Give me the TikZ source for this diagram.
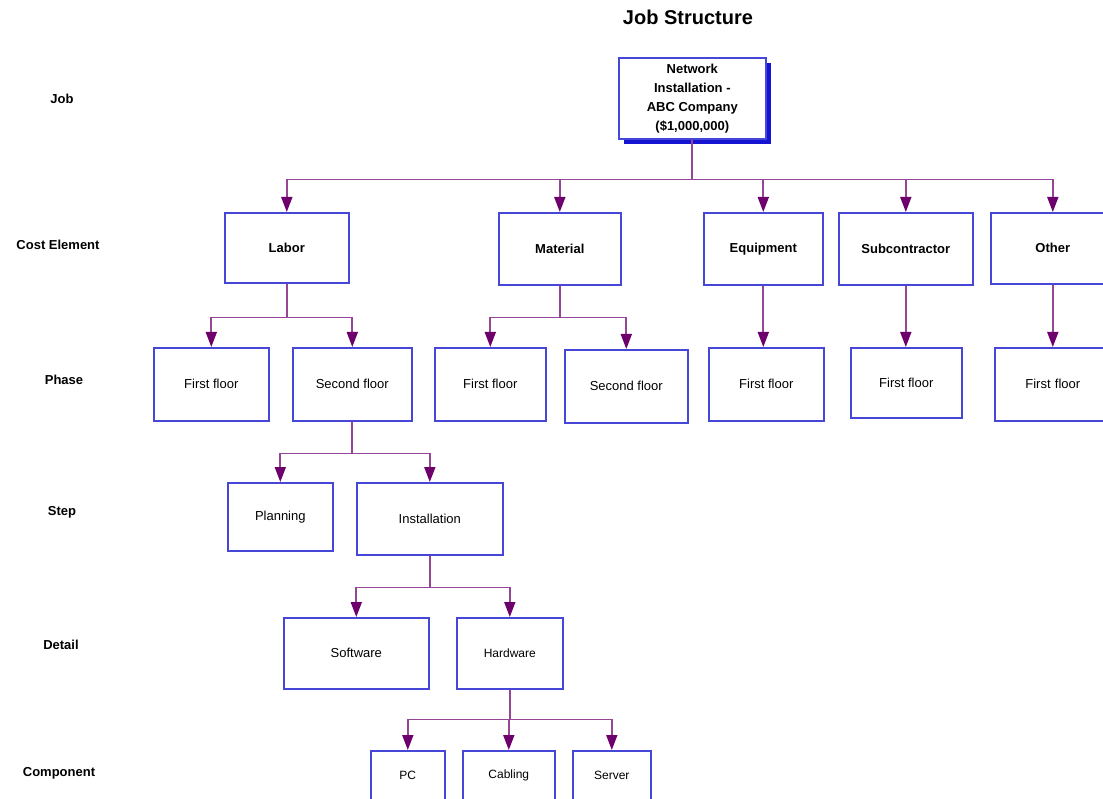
\documentclass[tikz,border=0pt]{standalone}
\usepackage{fontspec}
\setmainfont{Liberation Sans}
\usetikzlibrary{arrows.meta,shadows}
\definecolor{boxblue}{RGB}{70,70,215}
\definecolor{shadowblue}{RGB}{20,20,210}
\definecolor{linepurple}{RGB}{150,70,150}
\definecolor{headpurple}{RGB}{110,0,110}
\tikzset{
  box/.style={draw=boxblue, line width=1.6pt, fill=white, inner sep=0pt, anchor=north west, align=center, font=\fontsize{13}{16}\selectfont},
  boldbox/.style={box, font=\bfseries\fontsize{13}{16}\selectfont},
  lab/.style={font=\bfseries\fontsize{13}{16}\selectfont},
  conn/.style={draw=linepurple, line width=1.7pt},
  arr/.style={conn, -{Triangle[length=15pt,width=11pt,color=headpurple]}},
}
\begin{document}
\begin{tikzpicture}[x=1pt,y=-1pt]
\useasboundingbox (0,0) rectangle (1103,799);
\fill[white] (0,0) rectangle (1103,799);
% title
\node[font=\bfseries\fontsize{20}{24}\selectfont] (title) at (688,17) {Job Structure};
% level labels
\node[lab] (lJob) at (62,99) {Job};
\node[lab] (lCost) at (58,245) {Cost Element};
\node[lab] (lPhase) at (64,380) {Phase};
\node[lab] (lStep) at (62,512) {Step};
\node[lab] (lDetail) at (61,645) {Detail};
\node[lab] (lComp) at (59,773) {Component};
% job
\node[boldbox, minimum width=147pt, minimum height=81pt, font=\bfseries\fontsize{13}{19}\selectfont,
  drop shadow={shadow xshift=5pt, shadow yshift=-5pt, fill=shadowblue, opacity=1}]
  (job) at (618,57) {Network\\Installation -\\ABC Company\\(\$1,000,000)};
% cost elements
\node[boldbox, minimum width=124pt, minimum height=70pt] (labor) at (224,212) {Labor};
\node[boldbox, minimum width=122pt, minimum height=72pt] (material) at (498,212) {Material};
\node[boldbox, minimum width=119pt, minimum height=72pt] (equip) at (703,212) {Equipment};
\node[boldbox, minimum width=134pt, minimum height=72pt] (sub) at (838,212) {Subcontractor};
\node[boldbox, minimum width=124pt, minimum height=71pt, text width=124pt] (other) at (990,212) {Other};
% phases
\node[box, minimum width=115pt, minimum height=73pt] (lff) at (153,347) {First floor};
\node[box, minimum width=119pt, minimum height=73pt] (lsf) at (292,347) {Second floor};
\node[box, minimum width=111pt, minimum height=73pt] (mff) at (434,347) {First floor};
\node[box, minimum width=123pt, minimum height=73pt] (msf) at (564,349) {Second floor};
\node[box, minimum width=115pt, minimum height=73pt] (eff) at (708,347) {First floor};
\node[box, minimum width=111pt, minimum height=70pt] (sff) at (850,347) {First floor};
\node[box, minimum width=116pt, minimum height=73pt, text width=116pt] (off) at (994,347) {First floor};
% steps
\node[box, minimum width=105pt, minimum height=68pt] (plan) at (227,482) {Planning};
\node[box, minimum width=146pt, minimum height=72pt] (inst) at (356,482) {Installation};
% details
\node[box, minimum width=145pt, minimum height=71pt] (soft) at (283,617) {Software};
\node[box, minimum width=106pt, minimum height=71pt, font=\fontsize{12}{15}\selectfont] (hard) at (456,617) {Hardware};
% components
\node[box, minimum width=74pt, minimum height=50pt, font=\fontsize{12}{15}\selectfont] (pc) at (370,750) {PC};
\node[box, minimum width=92pt, minimum height=50pt, font=\fontsize{12}{15}\selectfont] (cab) at (462,750) {Cabling};
\node[box, minimum width=78pt, minimum height=50pt, font=\fontsize{12}{15}\selectfont] (serv) at (572,750) {Server};
% job -> cost elements
\draw[conn] (job.south) -- ++(0,40) coordinate (b0);
\foreach \n in {labor,material,equip,sub,other}
  \draw[arr] (b0) -| (\n.north);
% labor phases
\draw[conn] (labor.south) -- ++(0,34) coordinate (b1);
\foreach \n in {lff,lsf} \draw[arr] (b1) -| (\n.north);
% material phases
\draw[conn] (material.south) -- ++(0,32) coordinate (b2);
\foreach \n in {mff,msf} \draw[arr] (b2) -| (\n.north);
% single phases
\draw[arr] (equip.south) -- (equip.south |- eff.north);
\draw[arr] (sub.south) -- (sub.south |- sff.north);
\draw[arr] (other.south) -- (other.south |- off.north);
% steps
\draw[conn] (lsf.south) -- ++(0,32) coordinate (b3);
\foreach \n in {plan,inst} \draw[arr] (b3) -| (\n.north);
% details
\draw[conn] (inst.south) -- ++(0,32) coordinate (b4);
\foreach \n in {soft,hard} \draw[arr] (b4) -| (\n.north);
% components
\draw[conn] (hard.south) -- ++(0,30) coordinate (b5);
\foreach \n in {pc,cab,serv} \draw[arr] (b5) -| (\n.north);
\end{tikzpicture}
\end{document}
